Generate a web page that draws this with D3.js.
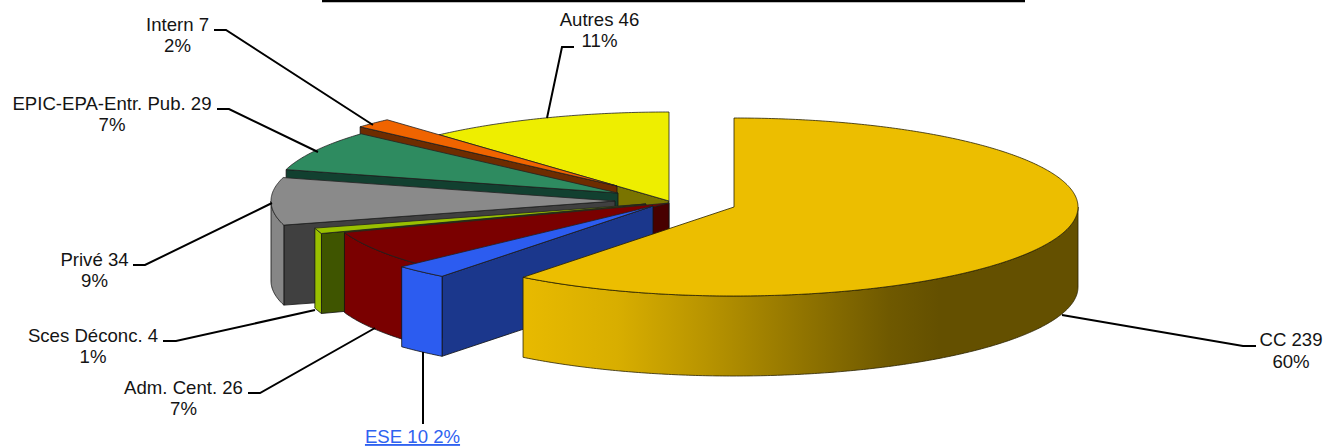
<!DOCTYPE html>
<html><head><meta charset="utf-8">
<script src="https://cdn.jsdelivr.net/npm/d3@7/dist/d3.min.js"></script>
<style>html,body{margin:0;padding:0;background:#fff}svg{display:block}text{font-family:"Liberation Sans",Arial,sans-serif;font-size:18.6px;fill:#141414}</style>
</head><body><div id="c"></div>
<script>
const categories = ["CC","ESE","Adm. Cent.","Sces Déconc.","Privé","EPIC-EPA-Entr. Pub.","Intern","Autres"];
const values     = [239,10,26,4,34,29,7,46];
const percents   = [60,2,7,1,9,7,2,11];
// Styles
const topColors  = ["#ecbe00","#2c5cf0","#7a0000","#99c000","#8a8a8a","#2e8b60","#f06400","#eeee00"];
const wallColors = ["#6a5300","#1b378c","#480000","#3f5500","#404040","#124030","#6e2c00","#7a7400"];
const rimColors  = ["url(#ccRim)","#2c5cf0","#7a0000","#99c000","#868686","#2e8b60","#f06400","#eeee00"];
// Layout: where each exploded slice's apex sits on the page
const apexX = [734,653,669,646,615,618,617,669];
const apexY = [207,206,203,204,201,193,186,201];
const leaders = [
 [[1062,315],[1243,346],[1256,346]],
 [[423,352],[423,424]],
 [[375,328],[260,393],[248,393]],
 [[315,310],[176,341],[163,341]],
 [[272,203],[145,265],[133,265]],
 [[318,152],[229,109],[217,109]],
 [[373,125],[226,30],[214,30]],
 [[547,118],[562,47],[574,47]]
];
const labelPos = [[1291,346,368],[412.5,443,null],[183.5,394,415],[93,342,363],[94.5,266,287],[112,110,131],[177.5,31,52],[599.5,26,47]];

const W=1325,H=446, RX=344, RY=89, DEPTH=80;
const svg=d3.select("#c").append("svg").attr("width",W).attr("height",H);

const grad=svg.append("defs").append("linearGradient").attr("id","ccRim")
  .attr("gradientUnits","userSpaceOnUse").attr("x1",523).attr("x2",1078).attr("y1",0).attr("y2",0);
[[0,"#e8ba00"],[0.17,"#d8ae00"],[0.33,"#b89400"],[0.5,"#927500"],[0.66,"#6f5900"],[0.75,"#645000"],[1,"#645000"]]
 .forEach(s=>grad.append("stop").attr("offset",s[0]).attr("stop-color",s[1]));

const pie=d3.pie().sort(null).value(d=>d).startAngle(0).endAngle(2*Math.PI);
const arcs=pie(values);
// unit-circle projection scales
const sx=d3.scaleLinear().domain([-1,1]).range([-RX,RX]);
const sy=d3.scaleLinear().domain([-1,1]).range([-RY,RY]);
const pt=(i,a,z=0)=>[apexX[i]+sx(Math.sin(a)),apexY[i]+sy(-Math.cos(a))+z];
const sample=(i,a0,a1,z)=>{const n=Math.max(2,Math.ceil(Math.abs(a1-a0)/0.01));return d3.range(n+1).map(k=>pt(i,a0+(a1-a0)*k/n,z));};
const line=d3.line();
const g=svg.append("g");
const strokeCol="#2a2200";

// back to front
[7,6,5,4,3,2,1,0].forEach(i=>{
  const d=arcs[i], a0=d.startAngle, a1=d.endAngle, ap=[apexX[i],apexY[i]];
  // start-side wall
  if(i!==0){
    const p=pt(i,a0), q=pt(i,a0,DEPTH);
    g.append("path").attr("d",line([ap,p,q,[ap[0],ap[1]+DEPTH]])+"Z").attr("fill",wallColors[i]).attr("stroke","#111").attr("stroke-width",.8);
  }
  // rim, the part that faces the viewer
  const r0=Math.max(a0,Math.PI/2), r1=Math.min(a1,1.5*Math.PI);
  if(r1>r0){
    g.append("path").attr("d",line(sample(i,r0,r1,0).concat(sample(i,r1,r0,DEPTH)))+"Z")
     .attr("fill",rimColors[i]).attr("stroke",i===0?strokeCol:"#111").attr("stroke-width",.8);
  }
  // top
  g.append("path").attr("d",line([ap].concat(sample(i,a0,a1,0)))+"Z")
   .attr("fill",topColors[i]).attr("stroke",i===0?strokeCol:"#222").attr("stroke-width",.8);
});

// title rule cut off by the crop
svg.append("line").attr("x1",322).attr("x2",1025).attr("y1",1).attr("y2",1).attr("stroke","#000").attr("stroke-width",2.6);

// leaders
svg.append("g").selectAll("path").data(leaders).join("path")
  .attr("d",d=>line(d)).attr("fill","none").attr("stroke","#000").attr("stroke-width",2);

// labels
categories.forEach((c,i)=>{
  const [x,y1,y2]=labelPos[i];
  if(y2===null){
    svg.append("text").attr("x",x).attr("y",y1).attr("text-anchor","middle")
      .style("fill","#2f62f0").style("text-decoration","underline").text(`${c} ${values[i]} ${percents[i]}%`);
  }else{
    svg.append("text").attr("x",x).attr("y",y1).attr("text-anchor","middle").text(`${c} ${values[i]}`);
    svg.append("text").attr("x",x).attr("y",y2).attr("text-anchor","middle").text(`${percents[i]}%`);
  }
});
</script></body></html>
